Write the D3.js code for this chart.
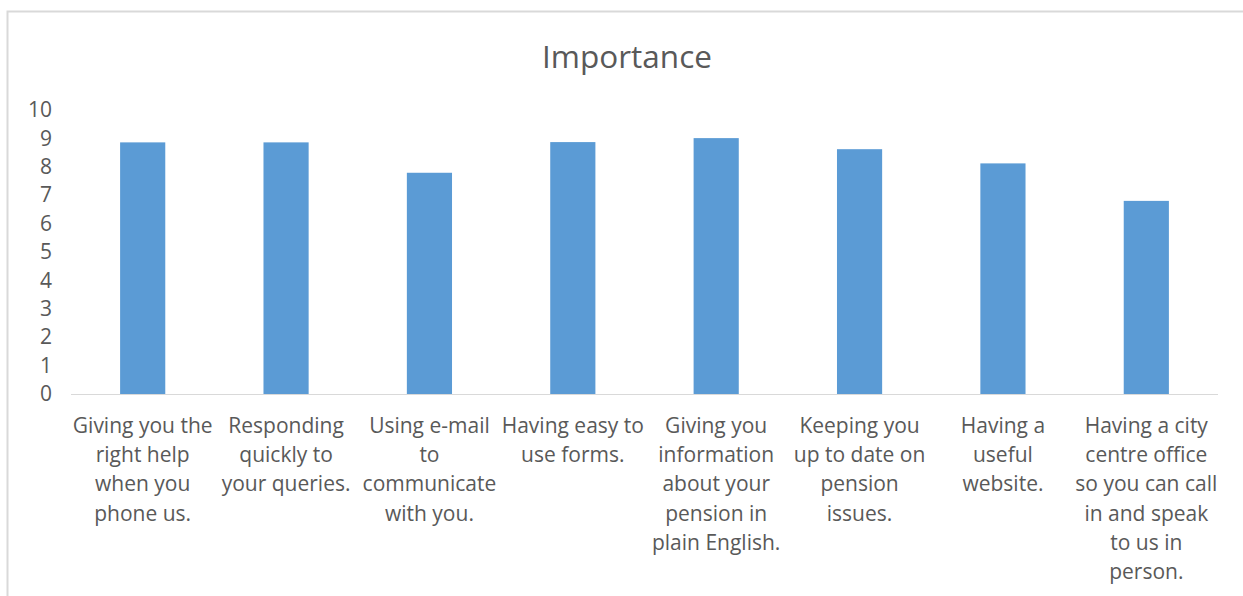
<!DOCTYPE html>
<html lang="en">
  <head>
    <meta charset="utf-8" />
    <title>Importance</title>
    <script src="https://d3js.org/d3.v7.min.js"></script>
    <style>
      body { margin: 0; background: #fff; }
      text { font-family: "Open Sans", Lato, sans-serif; fill: #595959; }
    </style>
  </head>
  <body>
    <div id="chart"></div>
    <script>
      const categories = [
        ["Giving you the", "right help", "when you", "phone us."],
        ["Responding", "quickly to", "your queries."],
        ["Using e-mail", "to", "communicate", "with you."],
        ["Having easy to", "use forms."],
        ["Giving you", "information", "about your", "pension in", "plain English."],
        ["Keeping you", "up to date on", "pension", "issues."],
        ["Having a", "useful", "website."],
        ["Having a city", "centre office", "so you can call", "in and speak", "to us in", "person."]
      ];
      const values = [8.86, 8.86, 7.79, 8.87, 9.01, 8.62, 8.12, 6.8];
      const yTicks = [0, 1, 2, 3, 4, 5, 6, 7, 8, 9, 10];
      const title = "Importance";

      const W = 1243, H = 596;
      const mLeft = 71, mRight = 1218, mTop = 110, mBottom = 394;

      const svg = d3.select("#chart").append("svg")
        .attr("width", W).attr("height", H);

      // chart frame
      svg.append("rect")
        .attr("x", 7.5).attr("y", 11.5)
        .attr("width", W + 20).attr("height", H + 20)
        .attr("fill", "none").attr("stroke", "#d9d9d9").attr("stroke-width", 2);

      svg.append("text")
        .attr("x", 627).attr("y", 68)
        .attr("text-anchor", "middle")
        .style("font-size", "31.5px")
        .text(title);

      const x = d3.scaleBand().domain(d3.range(categories.length))
        .range([mLeft, mRight]).paddingInner(0.685).paddingOuter(0.3425);
      const y = d3.scaleLinear().domain([0, 10]).range([mBottom, mTop]);

      // y labels
      const yAxis = svg.append("g").attr("transform", `translate(${mLeft - 19},0)`)
        .call(d3.axisLeft(y).tickValues(yTicks).tickSize(0).tickPadding(0));
      yAxis.select(".domain").remove();
      yAxis.selectAll("text").style("font-size", "21px").attr("fill", "#595959")
        .style("font-family", "'Open Sans', sans-serif");

      svg.selectAll("rect.bar")
        .data(values)
        .join("rect")
        .attr("class", "bar")
        .attr("x", (d, i) => x(i))
        .attr("width", x.bandwidth())
        .attr("y", d => y(d))
        .attr("height", d => y(0) - y(d))
        .attr("fill", "#5b9bd5");

      svg.append("line")
        .attr("x1", mLeft).attr("x2", mRight)
        .attr("y1", y(0) + 0.5).attr("y2", y(0) + 0.5)
        .attr("stroke", "#d9d9d9");

      // category labels
      const lbl = svg.append("g").selectAll("text")
        .data(categories)
        .join("text")
        .attr("text-anchor", "middle")
        .style("font-size", "21px")
        .attr("x", (d, i) => x(i) + x.bandwidth() / 2)
        .attr("y", 433);
      lbl.selectAll("tspan")
        .data(d => d)
        .join("tspan")
        .attr("x", function () { return d3.select(this.parentNode).attr("x"); })
        .attr("dy", (d, i) => (i === 0 ? 0 : 29.2))
        .text(d => d);
    </script>
  </body>
</html>
